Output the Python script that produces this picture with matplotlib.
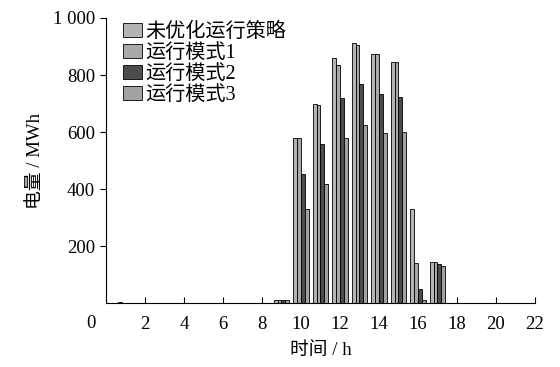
import numpy as np
import matplotlib.pyplot as plt

plt.rcParams['font.family'] = ['Liberation Serif', 'Noto Sans CJK SC']

hours = np.arange(1, 25)
# 电量 / MWh, one value per hour
s0 = [3, 0, 0, 2, 2, 0, 0, 0, 10, 579, 699, 861, 911, 872, 847, 331, 144, 0, 0, 0, 0, 0, 0, 0]
s1 = [0, 0, 0, 0, 0, 0, 0, 0, 10, 578, 694, 835, 905, 872, 847, 141, 144, 0, 0, 0, 0, 0, 0, 0]
s2 = [0, 0, 0, 0, 0, 0, 0, 0, 10, 453, 557, 719, 767, 735, 724, 49, 136, 0, 0, 0, 0, 0, 0, 0]
s3 = [0, 0, 0, 0, 0, 0, 0, 0, 10, 330, 419, 580, 624, 596, 601, 10, 129, 0, 0, 0, 0, 0, 0, 0]
names = ['未优化运行策略', '运行模式1', '运行模式2', '运行模式3']
colors = ['#b4b4b4', '#a9a9a9', '#4c4c4c', '#a2a2a2']

fig = plt.figure(figsize=(5.6, 3.67), dpi=100)
ax = fig.add_axes([0.1893, 0.174, 0.766, 0.777])

w = 0.2
for i, s in enumerate([s0, s1, s2, s3]):
    ax.bar(hours + (i - 1.5) * w, s, width=w, color=colors[i],
           edgecolor='black', linewidth=0.6, label=names[i])

ax.set_xlim(0, 22)
ax.set_ylim(0, 1000)
ax.set_xticks(range(2, 23, 2))
ax.set_yticks([200, 400, 600, 800, 1000])
ax.set_yticklabels(['200', '400', '600', '800', '1 000'])
ax.tick_params(axis='x', direction='in', labelsize=13.5, length=4, pad=9)
ax.tick_params(axis='y', direction='out', labelsize=13.5, length=4, pad=4)
ax.spines['top'].set_visible(False)
ax.spines['right'].set_visible(False)
ax.text(-0.025, -0.042, '0', transform=ax.transAxes, ha='right', va='top', fontsize=13.5)

ax.set_xlabel('时间 / h', fontsize=13.5, labelpad=7)
ax.set_ylabel('电量 / MWh', fontsize=13.5, labelpad=6)
ax.legend(loc='upper left', bbox_to_anchor=(0.04, 0.985), frameon=False, fontsize=14.5,
          handlelength=0.95, handleheight=0.7, handletextpad=0.15, labelspacing=0.1,
          borderaxespad=0, borderpad=0)

fig.savefig('out.png')
